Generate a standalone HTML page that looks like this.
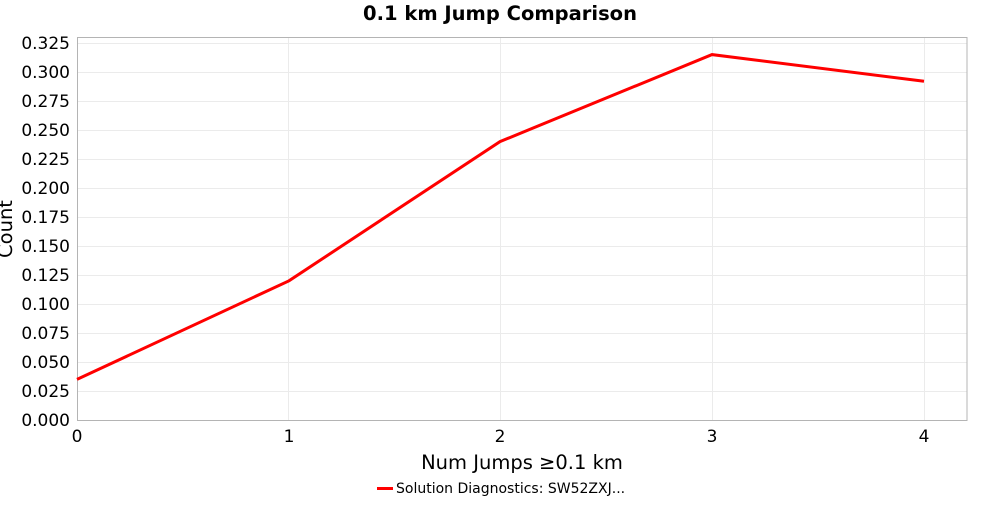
<!DOCTYPE html>
<html><head><style>body{margin:0;background:#fff}</style></head><body>
<svg width="1000" height="500" xmlns="http://www.w3.org/2000/svg" font-family="DejaVu Sans, sans-serif">
<rect width="1000" height="500" fill="#fff"/>
<text x="500" y="20" text-anchor="middle" font-size="19.5" font-weight="bold">0.1 km Jump Comparison</text>
<g stroke="#ebebeb" stroke-width="1">
<line x1="77" x2="967" y1="43.5" y2="43.5"/><line x1="77" x2="967" y1="72.5" y2="72.5"/><line x1="77" x2="967" y1="101.5" y2="101.5"/><line x1="77" x2="967" y1="130.5" y2="130.5"/><line x1="77" x2="967" y1="159.5" y2="159.5"/><line x1="77" x2="967" y1="188.5" y2="188.5"/><line x1="77" x2="967" y1="217.5" y2="217.5"/><line x1="77" x2="967" y1="246.5" y2="246.5"/><line x1="77" x2="967" y1="275.5" y2="275.5"/><line x1="77" x2="967" y1="304.5" y2="304.5"/><line x1="77" x2="967" y1="333.5" y2="333.5"/><line x1="77" x2="967" y1="362.5" y2="362.5"/><line x1="77" x2="967" y1="391.5" y2="391.5"/>
<line x1="288.5" x2="288.5" y1="37" y2="420"/><line x1="500.5" x2="500.5" y1="37" y2="420"/><line x1="712.5" x2="712.5" y1="37" y2="420"/><line x1="924.5" x2="924.5" y1="37" y2="420"/>
</g>
<rect x="77.5" y="37.5" width="889.5" height="383" fill="none" stroke="#b4b4b4"/>
<g font-size="17" text-anchor="end">
<text x="70" y="49">0.325</text><text x="70" y="78">0.300</text><text x="70" y="107">0.275</text><text x="70" y="136">0.250</text><text x="70" y="165">0.225</text><text x="70" y="194">0.200</text><text x="70" y="223">0.175</text><text x="70" y="252">0.150</text><text x="70" y="281">0.125</text><text x="70" y="310">0.100</text><text x="70" y="339">0.075</text><text x="70" y="368">0.050</text><text x="70" y="397">0.025</text><text x="70" y="426">0.000</text>
</g>
<g font-size="17" text-anchor="middle">
<text x="77" y="442">0</text><text x="289" y="442">1</text><text x="500" y="442">2</text><text x="712" y="442">3</text><text x="924" y="442">4</text>
</g>
<text x="522" y="469" text-anchor="middle" font-size="19.5">Num Jumps ≥0.1 km</text>
<text transform="translate(12,229) rotate(-90)" text-anchor="middle" font-size="19.5">Count</text>
<polyline points="77,379.4 289,280.8 500,141.6 712,54.6 924,81.3" fill="none" stroke="#ff0000" stroke-width="3"/>
<line x1="377" x2="393" y1="488.5" y2="488.5" stroke="#ff0000" stroke-width="3"/>
<text x="396" y="493" font-size="14">Solution Diagnostics: SW52ZXJ...</text>
</svg>
</body></html>
